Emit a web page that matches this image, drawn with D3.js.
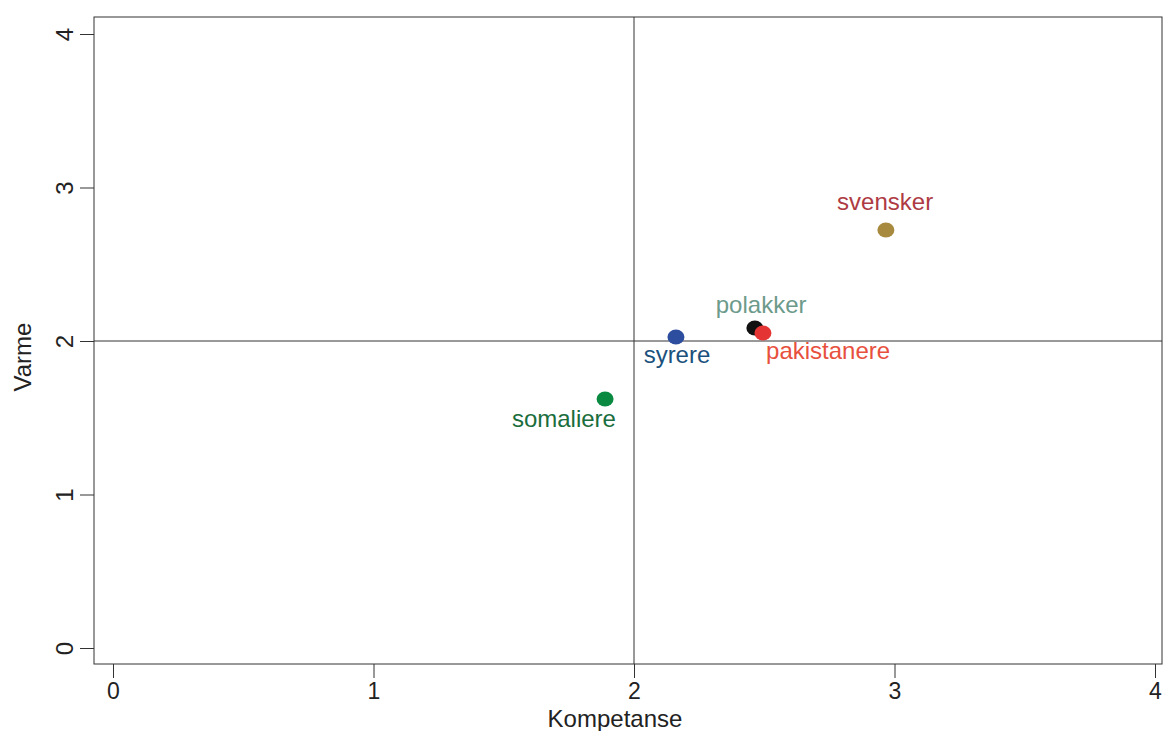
<!DOCTYPE html>
<html><head><meta charset="utf-8">
<script src="https://cdn.jsdelivr.net/npm/d3@7"></script>
<style>body{margin:0;background:#fff;} text{font-family:"Liberation Sans",Arial,sans-serif;}</style>
</head><body>
<svg id="c" width="1163" height="731"></svg>
<script>
const groups = ["svensker","polakker","pakistanere","syrere","somaliere"];
const kompetanse = [2.967, 2.464, 2.495, 2.161, 1.889];
const varme = [2.723, 2.085, 2.052, 2.026, 1.622];
const pointColors = ["#A88A3E","#111111","#E53434","#2D4E9E","#0A8A40"];
const labelColors = ["#AE3A43","#6C9A8B","#E8503E","#1B517C","#1A6D3C"];
const labelX = [2.964, 2.488, 2.745, 2.165, 1.731];
const labelY = [2.912, 2.241, 1.935, 1.909, 1.498];
const xTicks = [0,1,2,3,4];
const yTicks = [0,1,2,3,4];

const svg = d3.select("#c");
const x = d3.scaleLinear().domain([0,4]).range([113,1155]);
const y = d3.scaleLinear().domain([0,4]).range([648,34]);
const box = {l:94, r:1162, t:17, b:664};

svg.append("rect").attr("x",box.l).attr("y",box.t).attr("width",box.r-box.l).attr("height",box.b-box.t)
  .attr("fill","none").attr("stroke","#333").attr("stroke-width",1);

// reference lines
svg.append("line").attr("x1",x(2)).attr("x2",x(2)).attr("y1",box.t).attr("y2",box.b).attr("stroke","#333");
svg.append("line").attr("x1",box.l).attr("x2",box.r).attr("y1",y(2)).attr("y2",y(2)).attr("stroke","#333");

// x axis
const xa = svg.append("g").attr("transform",`translate(0,${box.b})`)
  .call(d3.axisBottom(x).tickValues(xTicks).tickSize(14).tickPadding(5).tickFormat(d3.format("d")));
xa.select(".domain").remove();
xa.selectAll("line").attr("stroke","#333");
xa.selectAll("text").attr("font-size",23).attr("fill","#222").attr("font-family","Liberation Sans, Arial, sans-serif");

// y axis
const ya = svg.append("g").attr("transform",`translate(${box.l},0)`)
  .call(d3.axisLeft(y).tickValues(yTicks).tickSize(14).tickFormat(d3.format("d")));
ya.select(".domain").remove();
ya.selectAll("line").attr("stroke","#333");
ya.selectAll("text").attr("font-size",24).attr("fill","#222").attr("font-family","Liberation Sans, Arial, sans-serif")
  .attr("x",null).attr("dy",null).attr("text-anchor","middle")
  .attr("transform","translate(-30,0) rotate(-90)").attr("dominant-baseline","central");

svg.append("text").attr("x",(x(0)+x(4))/2-19).attr("y",727).attr("text-anchor","middle")
  .attr("font-size",24).attr("fill","#222").text("Kompetanse");
svg.append("text").attr("transform",`translate(22,${(y(0)+y(4))/2+16}) rotate(-90)`).attr("text-anchor","middle")
  .attr("dominant-baseline","central").attr("font-size",24).attr("fill","#222").text("Varme");

const data = groups.map((g,i)=>({g, kx:kompetanse[i], vy:varme[i], pc:pointColors[i], lc:labelColors[i], lx:labelX[i], ly:labelY[i]}));
svg.append("g").selectAll("ellipse").data(data).join("ellipse")
  .attr("cx",d=>x(d.kx)).attr("cy",d=>y(d.vy)).attr("rx",8.5).attr("ry",7.5).attr("fill",d=>d.pc);
svg.append("g").selectAll("text").data(data).join("text")
  .attr("x",d=>x(d.lx)).attr("y",d=>y(d.ly)).attr("text-anchor","middle").attr("dominant-baseline","central")
  .attr("font-size",24).attr("fill",d=>d.lc).text(d=>d.g);
</script>
</body></html>
